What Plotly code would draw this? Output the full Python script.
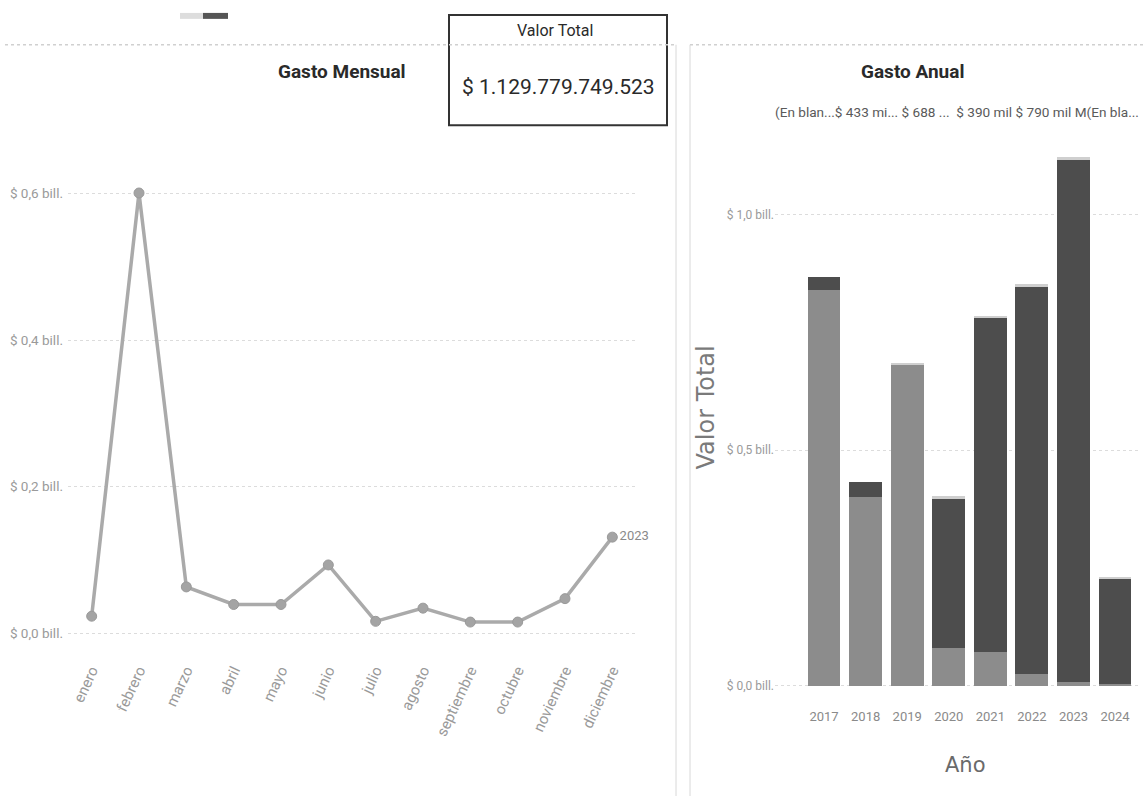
import plotly.graph_objects as go

# ---- data ----
meses = ["enero", "febrero", "marzo", "abril", "mayo", "junio", "julio",
         "agosto", "septiembre", "octubre", "noviembre", "diciembre"]
gasto_mensual = [0.023, 0.601, 0.063, 0.039, 0.039, 0.093, 0.016,
                 0.034, 0.015, 0.015, 0.047, 0.131]
serie_mensual = "2023"

anios = ["2017", "2018", "2019", "2020", "2021", "2022", "2023", "2024"]
seg_claro = [0.840, 0.400, 0.680, 0.080, 0.072, 0.025, 0.008, 0.004]
seg_oscuro = [0.027, 0.032, 0.000, 0.318, 0.708, 0.822, 1.108, 0.224]
seg_tope = [0.000, 0.000, 0.006, 0.004, 0.005, 0.005, 0.006, 0.002]

left_ticks = [0.0, 0.2, 0.4, 0.6]
left_ticktext = ["$ 0,0 bill.", "$ 0,2 bill.", "$ 0,4 bill.", "$ 0,6 bill."]
right_ticks = [0.0, 0.5, 1.0]
right_ticktext = ["$ 0,0 bill.", "$ 0,5 bill.", "$ 1,0 bill."]

valor_total = "$ 1.129.779.749.523"
leyenda = "(En blan...$ 433 mi... $ 688 ...  $ 390 mil $ 790 mil M(En bla..."

W, H = 1143, 801
NARROW = "Roboto, Liberation Sans Narrow, DejaVu Sans Condensed, sans-serif"
WIDE = "DejaVu Sans, Liberation Sans, Arial, sans-serif"

def px(x):
    return x / W

def py(y):
    return 1 - y / H

fig = go.Figure()

# ---- left: monthly line ----
fig.add_trace(go.Scatter(
    x=meses, y=gasto_mensual, mode="lines+markers+text",
    line=dict(color="#aaaaaa", width=3.5),
    marker=dict(color="#a4a4a4", size=10, line=dict(color="#9a9a9a", width=1)),
    text=[""] * (len(meses) - 1) + [serie_mensual],
    textposition="middle right",
    textfont=dict(family=NARROW, size=13, color="#8a8a8a"),
    xaxis="x", yaxis="y", showlegend=False, cliponaxis=False,
))

# ---- right: stacked bars ----
fig.add_trace(go.Bar(x=anios, y=seg_claro, marker=dict(color="#8c8c8c", line=dict(width=0)),
                     xaxis="x2", yaxis="y2", showlegend=False))
fig.add_trace(go.Bar(x=anios, y=seg_oscuro, marker=dict(color="#4d4d4d", line=dict(width=0)),
                     xaxis="x2", yaxis="y2", showlegend=False))
fig.add_trace(go.Bar(x=anios, y=seg_tope, marker=dict(color="#cfcfcf", line=dict(width=0)),
                     xaxis="x2", yaxis="y2", showlegend=False))

fig.update_layout(
    width=W, height=H,
    margin=dict(l=0, r=0, t=0, b=0),
    paper_bgcolor="white", plot_bgcolor="white",
    barmode="stack", bargap=0.21,
    font=dict(family=NARROW, color="#8a8a8a"),
    xaxis=dict(domain=[px(68), px(636)], range=[-0.5, 11.5], type="category",
               tickangle=-65, showgrid=False, zeroline=False, showline=False,
               tickfont=dict(size=15, color="#9a9a9a", family=NARROW), ticks="",
               ticklabelstandoff=2),
    yaxis=dict(domain=[py(660), py(180)], range=[-0.0312, 0.6203],
               tickvals=left_ticks, ticktext=left_ticktext,
               showgrid=True, gridcolor="#dcdcdc", griddash="dot", gridwidth=1,
               zeroline=False, showline=False,
               tickfont=dict(size=13.5, color="#9a9a9a", family=NARROW), ticks="",
               ticklabelstandoff=4),
    xaxis2=dict(domain=[px(775), px(1140)], range=[-1.18, 7.6], type="category",
                anchor="y2", showgrid=False, zeroline=False, showline=False,
                tickfont=dict(size=13, color="#8a8a8a", family=NARROW), ticks="",
                ticklabelstandoff=19),
    yaxis2=dict(domain=[py(692), py(150)], range=[-0.004, 1.139], anchor="x2",
                tickvals=right_ticks, ticktext=right_ticktext,
                showgrid=True, gridcolor="#dcdcdc", griddash="dot", gridwidth=1,
                zeroline=False, showline=False,
                tickfont=dict(size=12, color="#9a9a9a", family=NARROW), ticks=""),
)

def note(x, y, text, size, color, family, **kw):
    fig.add_annotation(x=px(x), y=py(y), xref="paper", yref="paper", text=text,
                       showarrow=False, xanchor="center", yanchor="middle",
                       font=dict(size=size, color=color, family=family), **kw)

# axis titles of right panel
note(706, 410, "Valor Total", 24, "#7a7a7a", WIDE, textangle=-90)
note(965, 770, "Año", 21, "#6a6a6a", WIDE)

# titles
note(342, 72, "<b>Gasto Mensual</b>", 19, "#2a2a2a", NARROW)
note(912, 72, "<b>Gasto Anual</b>", 19, "#2a2a2a", NARROW)

# legend text row
note(957, 113, leyenda, 13.6, "#5a5a5a", NARROW)

# KPI card
fig.add_shape(type="rect", x0=px(449), x1=px(667), y0=py(126), y1=py(15),
              xref="paper", yref="paper", line=dict(color="#333333", width=2),
              fillcolor="white", layer="above")
note(555, 31, "Valor Total", 16, "#2a2a2a", NARROW)
note(558, 88, valor_total, 21, "#2a2a2a", NARROW)

# panel frames
fig.add_shape(type="line", x0=px(5), x1=px(676), y0=py(45), y1=py(45), xref="paper", yref="paper",
              line=dict(color="#d0d0d0", width=1.5, dash="dot"))
fig.add_shape(type="line", x0=px(690), x1=px(1143), y0=py(45), y1=py(45), xref="paper", yref="paper",
              line=dict(color="#d0d0d0", width=1.5, dash="dot"))
fig.add_shape(type="line", x0=px(676), x1=px(676), y0=py(45), y1=py(801), xref="paper", yref="paper",
              line=dict(color="#d8d8d8", width=1))
fig.add_shape(type="line", x0=px(690), x1=px(690), y0=py(45), y1=py(801), xref="paper", yref="paper",
              line=dict(color="#d8d8d8", width=1))

# small handle at the top
fig.add_shape(type="rect", x0=px(180), x1=px(203), y0=py(19), y1=py(13), xref="paper", yref="paper",
              line=dict(width=0), fillcolor="#dddddd")
fig.add_shape(type="rect", x0=px(203), x1=px(228), y0=py(19), y1=py(13), xref="paper", yref="paper",
              line=dict(width=0), fillcolor="#555555")

fig.write_html("out.html", config={"displayModeBar": False},
               post_script="document.body.style.margin='0';document.body.style.overflow='hidden';")
